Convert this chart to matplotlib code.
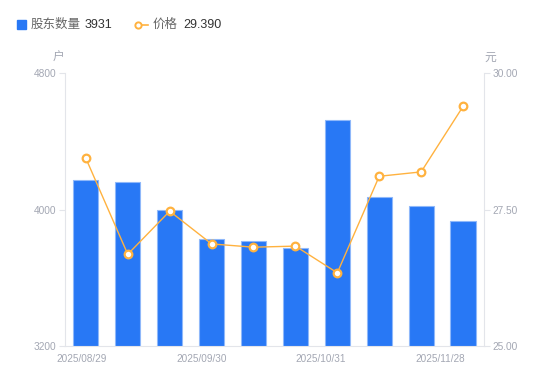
import numpy as np
import matplotlib.pyplot as plt
from matplotlib.transforms import ScaledTranslation

plt.rcParams['font.family'] = ['Liberation Sans', 'Noto Sans CJK SC', 'DejaVu Sans']

# data
dates = ['2025/08/29', '2025/09/12', '2025/09/19', '2025/09/30', '2025/10/10',
         '2025/10/20', '2025/10/31', '2025/11/10', '2025/11/20', '2025/11/28']
holders = [4173, 4161, 3995, 3826, 3814, 3775, 4528, 4076, 4018, 3931]
price = [28.44, 26.68, 27.47, 26.87, 26.81, 26.83, 26.34, 28.11, 28.19, 29.39]
label_idx = [0, 3, 6, 9]

blue = '#2878f5'
orange = '#ffb23f'
grey = '#a3a7b3'
axis_col = '#e3e5ea'

fig = plt.figure(figsize=(5.5, 3.81), dpi=100)
ax = fig.add_axes([0.118, 0.092, 0.762, 0.716])
ax2 = ax.twinx()

x = np.arange(len(dates))
ax.bar(x, holders, width=0.6, color=blue, edgecolor='#8fb8fa', linewidth=0.8, zorder=2)
ax.set_ylim(3200, 4800)
ax.set_xlim(-0.5, len(dates) - 0.5)
ax.set_yticks([3200, 4000, 4800])

ax2.plot(x, price, color=orange, linewidth=1, marker='o', markersize=5.5,
         markerfacecolor='white', markeredgecolor=orange, markeredgewidth=1.6, zorder=3)
ax2.set_ylim(25, 30)
ax2.set_yticks([25, 27.5, 30])
ax2.set_yticklabels(['25.00', '27.50', '30.00'])

for a in (ax, ax2):
    for s in a.spines.values():
        s.set_visible(False)
ax.spines['left'].set_visible(True)
ax.spines['left'].set_color(axis_col)
ax.spines['bottom'].set_visible(True)
ax.spines['bottom'].set_color(axis_col)
ax2.spines['right'].set_visible(True)
ax2.spines['right'].set_color(axis_col)

ax.tick_params(axis='y', colors=axis_col, labelcolor=grey, labelsize=7.3, length=4, width=0.8, pad=2)
ax2.tick_params(axis='y', colors=axis_col, labelcolor=grey, labelsize=7.3, length=4, width=0.8, pad=2)
ax.set_xticks(label_idx)
ax.set_xticklabels([dates[i] for i in label_idx])
ax.tick_params(axis='x', length=0, labelcolor=grey, labelsize=7.2, pad=6)

# the reference spreads the date labels a bit tighter than the bars
for k, lab in enumerate(ax.get_xticklabels()):
    lab.set_transform(lab.get_transform() + ScaledTranslation(-(4 + 6.3 * k) / 100, 0, fig.dpi_scale_trans))

ax.text(-0.015, 1.035, '户', transform=ax.transAxes, ha='center', va='bottom', color=grey, fontsize=8.5)
ax2.text(1.015, 1.035, '元', transform=ax2.transAxes, ha='center', va='bottom', color=grey, fontsize=8.5)

# legend
fig.patches.append(plt.Rectangle((17 / 550, 1 - 29 / 381), 9 / 550, 9 / 381,
                                 transform=fig.transFigure, color=blue, figure=fig))
fig.text(31 / 550, 1 - 25 / 381, '股东数量', color='#666666', fontsize=9, va='center')
fig.text(85 / 550, 1 - 25 / 381, '3931', color='#333333', fontsize=9, va='center')
fig.lines.append(plt.Line2D([138 / 550, 148 / 550], [1 - 25 / 381] * 2, transform=fig.transFigure,
                            color=orange, linewidth=1.2, marker='o', markersize=4.5,
                            markevery=[0], markerfacecolor='white', markeredgewidth=1.4))
fig.text(153 / 550, 1 - 25 / 381, '价格', color='#666666', fontsize=9, va='center')
fig.text(183 / 550, 1 - 25 / 381, '29.390', color='#333333', fontsize=9, va='center')

fig.savefig('out.png', dpi=100)
